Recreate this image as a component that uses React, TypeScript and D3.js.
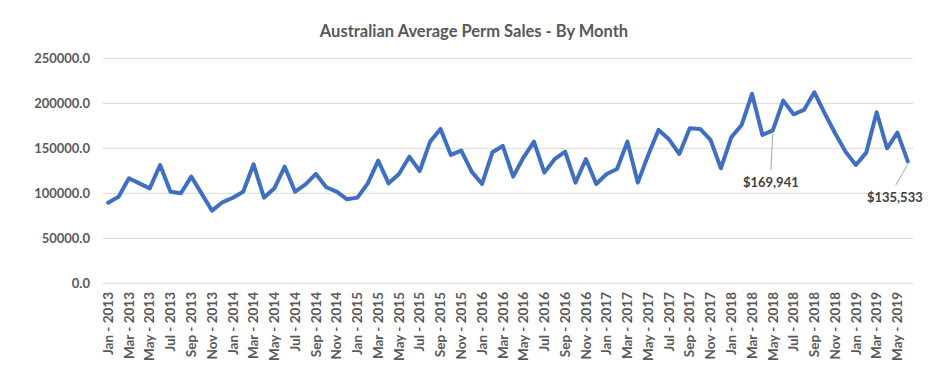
import React, { useEffect, useRef } from "react";
import * as d3 from "d3";

const monthNames = ["Jan", "Feb", "Mar", "Apr", "May", "Jun", "Jul", "Aug", "Sep", "Oct", "Nov", "Dec"];
const years = [2013, 2014, 2015, 2016, 2017, 2018, 2019];

const values2013 = [89600, 96200, 116700, 111000, 105500, 131400, 101800, 100000, 118500, 99600, 80700, 90000];
const values2014 = [95100, 101800, 132200, 95100, 105500, 129600, 101800, 110000, 121500, 106700, 101900, 93300];
const values2015 = [95200, 111100, 136300, 111100, 121500, 140700, 124800, 157400, 171500, 142600, 147400, 124100];
const values2016 = [110400, 145600, 152600, 118500, 140000, 157400, 123000, 138100, 146300, 111900, 138100, 110400];
const values2017 = [121500, 127000, 157400, 111900, 142600, 170400, 160000, 143700, 172200, 171500, 159300, 127800];
const values2018 = [162200, 175900, 210400, 164800, 169941, 203000, 187800, 192600, 212200, 188900, 166700, 146300];
const values2019 = [131500, 145200, 190000, 150000, 167400, 135533];

const yTicks = [0, 50000, 100000, 150000, 200000, 250000];
const labelledMonths = ["May - 2018", "Jun - 2019"];

const title = "Australian Average Perm Sales - By Month";

export default function App() {
  const ref = useRef<SVGSVGElement>(null);

  useEffect(() => {
    const allValues = [...values2013, ...values2014, ...values2015, ...values2016, ...values2017, ...values2018, ...values2019];
    const categories: string[] = [];
    years.forEach((y) => monthNames.forEach((m) => categories.push(`${m} - ${y}`)));
    const cats = categories.slice(0, allValues.length);
    const data = cats.map((c, i) => ({ c, v: allValues[i] }));

    const svg = d3.select(ref.current);
    svg.selectAll("*").remove();

    const W = 938, H = 377;
    const left = 103, right = 913, top = 58.3, bottom = 283.3;
    const font = "Lato, 'Open Sans', sans-serif";
    const textColor = "#595959";

    const x = d3.scaleBand<string>().domain(cats).range([left, right]);
    const y = d3.scaleLinear().domain([0, 250000]).range([bottom, top]);
    const cx = (c: string) => (x(c) as number) + x.bandwidth() / 2;

    svg.append("rect").attr("width", W).attr("height", H).attr("fill", "#fff");

    svg.append("text")
      .attr("x", 474).attr("y", 37)
      .attr("text-anchor", "middle")
      .attr("font-family", font).attr("font-weight", 700).attr("font-size", 16.5)
      .attr("fill", textColor)
      .text(title);

    // gridlines
    svg.append("g").selectAll("line").data(yTicks).join("line")
      .attr("x1", left).attr("x2", right)
      .attr("y1", (d) => y(d)).attr("y2", (d) => y(d))
      .attr("stroke", "#d9d9d9").attr("stroke-width", 1);

    // y labels
    const fmt = d3.format(".1f");
    svg.append("g").selectAll("text").data(yTicks).join("text")
      .attr("x", 90).attr("y", (d) => y(d)).attr("dy", "0.35em")
      .attr("text-anchor", "end")
      .attr("font-family", font).attr("font-weight", 700).attr("font-size", 13)
      .attr("fill", textColor)
      .text((d) => fmt(d));

    // x labels (every other month)
    const xl = cats.filter((_, i) => i % 2 === 0);
    svg.append("g").selectAll("text").data(xl).join("text")
      .attr("transform", (d) => `translate(${cx(d)},292) rotate(-90)`)
      .attr("dy", "0.35em")
      .attr("text-anchor", "end")
      .attr("font-family", font).attr("font-weight", 700).attr("font-size", 13.5)
      .attr("fill", textColor)
      .text((d) => d);

    // line
    const line = d3.line<{ c: string; v: number }>().x((d) => cx(d.c)).y((d) => y(d.v));
    svg.append("path").datum(data)
      .attr("d", line)
      .attr("fill", "none")
      .attr("stroke", "#3f6fc2")
      .attr("stroke-width", 4)
      .attr("stroke-linejoin", "round")
      .attr("stroke-linecap", "round");

    // data labels
    const fmtD = d3.format("$,");
    const lab = [
      { c: labelledMonths[0], dx: -2, ty: 187, lx: -2 },
      { c: labelledMonths[1], dx: -13, ty: 202, lx: -12 },
    ];
    lab.forEach((l) => {
      const d = data.find((e) => e.c === l.c)!;
      const px = cx(d.c), py = y(d.v);
      svg.append("line")
        .attr("x1", px).attr("y1", py + 3)
        .attr("x2", px + l.lx).attr("y2", l.ty - 17)
        .attr("stroke", "#a6a6a6").attr("stroke-width", 1);
      svg.append("text")
        .attr("x", px + l.dx).attr("y", l.ty)
        .attr("text-anchor", "middle")
        .attr("font-family", font).attr("font-weight", 700).attr("font-size", 13)
        .attr("fill", "#404040")
        .text(fmtD(d.v));
    });
  }, []);

  return (
    <svg ref={ref} width={938} height={377} style={{ position: "absolute", left: 0, top: 0 }} />
  );
}
